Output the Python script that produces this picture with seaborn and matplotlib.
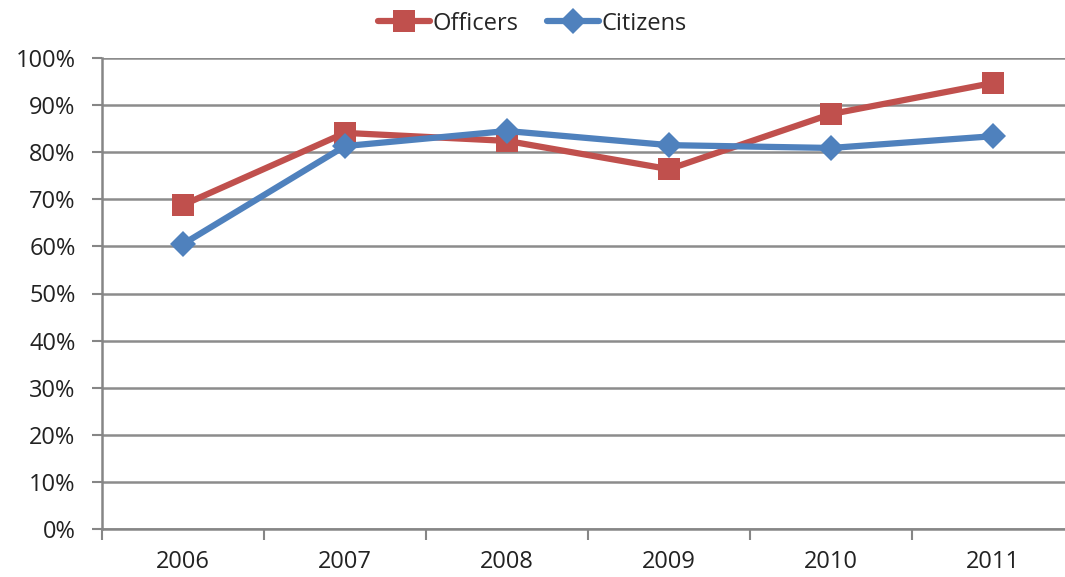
import matplotlib
matplotlib.use("Agg")
import matplotlib.pyplot as plt
import seaborn as sns
import pandas as pd
from matplotlib.ticker import FixedLocator, PercentFormatter

# Values (percent)
years = ["2006", "2007", "2008", "2009", "2010", "2011"]
officers = [68.8, 84.1, 82.4, 76.4, 88.1, 94.7]
citizens = [60.5, 81.3, 84.5, 81.5, 80.9, 83.4]

df = pd.DataFrame({
    "pos": list(range(len(years))) * 2,
    "value": officers + citizens,
    "series": ["Officers"] * len(years) + ["Citizens"] * len(years),
})

sns.set_style("white")
plt.rcParams["font.family"] = ["Open Sans", "DejaVu Sans"]

fig = plt.figure(figsize=(10.65, 5.77), dpi=100)
ax = fig.add_axes([102 / 1065, 48 / 577, 972 / 1065, 471 / 577])

palette = {"Officers": "#C0504D", "Citizens": "#4F81BD"}
sns.lineplot(
    data=df, x="pos", y="value", hue="series", style="series",
    markers={"Officers": "s", "Citizens": "D"}, dashes=False,
    palette=palette, linewidth=4.5, ax=ax,
)
for line in ax.lines:
    if line.get_marker() == "s":
        line.set_markersize(16)
    else:
        line.set_markersize(13)
    line.set_markeredgewidth(0)

ax.set_xlim(-0.5, len(years) - 0.5)
ax.set_ylim(0, 100)
ax.set_yticks(range(0, 101, 10))
ax.yaxis.set_major_formatter(PercentFormatter(decimals=0))
ax.set_xticks(range(len(years)))
ax.set_xticklabels(years)
ax.xaxis.set_minor_locator(FixedLocator([i - 0.5 for i in range(len(years) + 1)]))
ax.tick_params(axis="x", which="major", length=0, pad=15, labelsize=17, colors="#222222")
ax.tick_params(axis="x", which="minor", length=8, width=1.5, color="#868686", bottom=True)
ax.tick_params(axis="y", which="major", length=7, width=1.5, color="#868686", pad=12,
               labelsize=17, labelcolor="#222222", left=True)
ax.grid(axis="y", color="#8c8c8c", linewidth=1.8)
ax.set_axisbelow(True)
for side in ["top", "right"]:
    ax.spines[side].set_visible(False)
for side in ["left", "bottom"]:
    ax.spines[side].set_color("#868686")
    ax.spines[side].set_linewidth(1.8)
ax.set_xlabel("")
ax.set_ylabel("")

handles, labels = ax.get_legend_handles_labels()
ax.legend(handles, labels, loc="center", bbox_to_anchor=(0.5 * 1065 / 972 - 102 / 972, 1.073),
          ncol=2, frameon=False, fontsize=17, handlelength=2.2, handletextpad=0.1,
          columnspacing=1.2)

fig.savefig("out.png", dpi=100)
